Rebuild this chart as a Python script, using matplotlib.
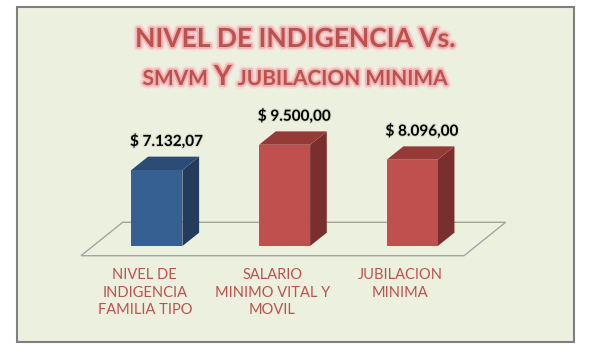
import matplotlib

matplotlib.use("Agg")
import matplotlib.pyplot as plt
from matplotlib.patches import Polygon, Rectangle
import matplotlib.patheffects as pe

# data
categories = ["NIVEL DE\nINDIGENCIA\nFAMILIA TIPO",
              "SALARIO\nMINIMO VITAL Y\nMOVIL",
              "JUBILACION\nMINIMA"]
values = [7132.07, 9500.00, 8096.00]
value_labels = ["$ 7.132,07", "$ 9.500,00", "$ 8.096,00"]

BG = "#EBF1DE"
RED = "#C0504D"
FACES = [("#366092", "#2B4C77", "#243C5C"),   # front, top, side
         ("#C0504D", "#963A38", "#7A2F2E"),
         ("#C0504D", "#963A38", "#7A2F2E")]

# pseudo-3d depth vector (category units, value units)
DX, DY = 0.3266, 3133
BAR_T = 0.4
FLOOR_T0, FLOOR_T1 = -0.29, 0.71
BAR_W = 0.4

plt.rcParams["font.family"] = ["Lato", "DejaVu Sans"]

W, H = 591, 351
fig = plt.figure(figsize=(W / 100, H / 100), dpi=100, facecolor="white")
fig.patches.append(Rectangle((17 / W, 9 / H), 557 / W, 335 / H, transform=fig.transFigure,
                             facecolor=BG, edgecolor="#7F7F7F", lw=1.5, zorder=-5))

ax = fig.add_axes([0.1575, 0.2991, 0.648, 0.3037])
ax.set_xlim(0, len(values))
ax.set_ylim(0, 10000)
ax.axis("off")

# floor
n = len(values)
floor = [(FLOOR_T0 * DX, FLOOR_T0 * DY), (n + FLOOR_T0 * DX, FLOOR_T0 * DY),
         (n + FLOOR_T1 * DX, FLOOR_T1 * DY), (FLOOR_T1 * DX, FLOOR_T1 * DY)]
ax.add_patch(Polygon(floor, closed=True, facecolor="none", edgecolor="#A5A5A5", lw=1.0,
                     clip_on=False))

bdx, bdy = BAR_T * DX, BAR_T * DY
for i, (v, (cf, ct, cs)) in enumerate(zip(values, FACES)):
    x0, x1 = i + 0.5 - BAR_W / 2, i + 0.5 + BAR_W / 2
    ax.add_patch(Polygon([(x1, 0), (x1 + bdx, bdy), (x1 + bdx, v + bdy), (x1, v)],
                         facecolor=cs, edgecolor="none", clip_on=False))
    ax.add_patch(Polygon([(x0, v), (x1, v), (x1 + bdx, v + bdy), (x0 + bdx, v + bdy)],
                         facecolor=ct, edgecolor="none", clip_on=False))
    ax.add_patch(Polygon([(x0, 0), (x1, 0), (x1, v), (x0, v)],
                         facecolor=cf, edgecolor="none", clip_on=False))
    ax.annotate(value_labels[i], xy=(i + 0.5 + bdx / 2, v + bdy), xytext=(1, 11),
                textcoords="offset points", ha="center", va="center", fontsize=11,
                fontweight="bold", color="black", annotation_clip=False,
                path_effects=[pe.withStroke(linewidth=1.5, foreground="#D8DCCB")])

for i, lab in enumerate(categories):
    ax.annotate(lab, xy=(i + 0.5 + FLOOR_T0 * DX, FLOOR_T0 * DY), xytext=(0, -9),
                textcoords="offset points", ha="center", va="top", fontsize=10.5,
                color=RED, linespacing=1.3, annotation_clip=False)

# title
glow = [pe.Stroke(linewidth=5, foreground="#F6D9D7"),
        pe.Stroke(linewidth=2.5, foreground="#EEB4B2"), pe.Normal()]
fig.text(295 / W, 1 - 47 / H, "NIVEL DE INDIGENCIA Vs.", ha="center", va="baseline",
         fontsize=19, fontweight="bold", color=RED, path_effects=glow)

parts = [("SMVM", 15), ("Y", 20), ("JUBILACION MINIMA", 15)]
gaps = [6, 6]
texts = [fig.text(0, 1 - 85 / H, s, ha="left", va="baseline", fontsize=fs,
                  fontweight="bold", color=RED, path_effects=glow) for s, fs in parts]
fig.canvas.draw()
r = fig.canvas.get_renderer()
widths = [t.get_window_extent(r).width for t in texts]
x = 295 - (sum(widths) + sum(gaps)) / 2
for k, t in enumerate(texts):
    t.set_x(x / W)
    x += widths[k] + (gaps[k] if k < len(gaps) else 0)

fig.savefig("out.png", dpi=100, facecolor="white")
